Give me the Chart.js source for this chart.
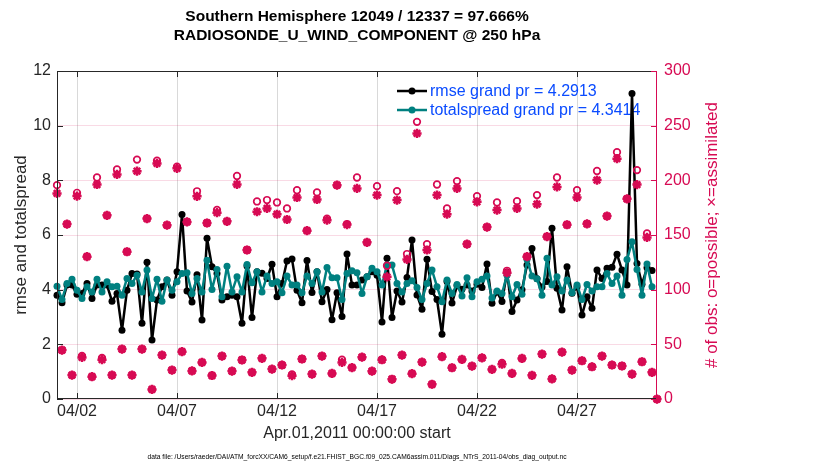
<!DOCTYPE html>
<html><head><meta charset="utf-8">
<script src="https://cdn.jsdelivr.net/npm/chart.js@4.4.1/dist/chart.umd.min.js"></script>
<style>html,body{margin:0;padding:0;background:#fff}#wrap{width:830px;height:470px}</style>
</head><body><div id="wrap"><canvas id="c" width="830" height="470"></canvas></div>
<script>
const titleLines = ['Southern Hemisphere 12049 / 12337 = 97.666%', 'RADIOSONDE_U_WIND_COMPONENT @ 250 hPa'];
const xTitle = 'Apr.01,2011 00:00:00 start';
const yTitle = 'rmse and totalspread';
const y2Title = '# of obs: o=possible; \u00D7=assimilated';
const footnote = 'data file: /Users/raeder/DAI/ATM_forcXX/CAM6_setup/f.e21.FHIST_BGC.f09_025.CAM6assim.011/Diags_NTrS_2011-04/obs_diag_output.nc';
const legendLabels = ['rmse grand pr = 4.2913', 'totalspread grand pr = 4.3414'];

const stepDays = 0.25;
const tickDays = [1, 6, 11, 16, 21, 26];
const tickLabels = ['04/02', '04/07', '04/12', '04/17', '04/22', '04/27'];

const rmse = [
3.80,3.52,4.17,4.17,3.83,3.86,4.23,3.68,4.17,4.17,
4.17,3.58,3.86,2.52,3.98,4.59,4.57,2.77,5.00,2.16,
3.62,4.11,4.35,3.80,4.66,6.75,3.95,3.55,4.55,2.89,
5.88,4.84,4.59,3.62,3.74,3.80,3.74,2.77,4.87,2.98,
4.66,4.60,4.41,4.93,3.74,4.23,5.05,5.12,3.98,3.52,
5.07,3.90,4.66,3.56,4.01,2.90,3.89,3.02,5.31,4.17,
4.17,4.35,4.47,4.66,4.53,2.82,5.15,2.98,3.95,3.55,
4.45,5.82,3.81,3.28,5.11,3.93,3.64,2.37,4.30,3.51,
4.14,4.02,4.17,3.95,4.20,4.08,4.94,3.50,3.92,3.57,
4.64,3.20,3.62,4.00,4.90,5.51,4.40,4.10,4.30,6.25,
4.05,3.26,4.84,3.87,4.10,3.07,3.74,3.32,4.72,4.41,
4.78,4.82,5.30,4.72,4.17,11.18,4.96,4.20,4.80,4.70
];
const totalspread = [
4.13,3.64,4.23,4.38,3.98,3.68,4.11,3.92,4.38,3.92,
4.29,4.11,4.13,3.80,4.41,4.23,4.53,3.92,4.72,3.68,
4.38,3.58,4.35,3.98,4.29,4.59,4.62,3.86,4.41,3.92,
5.08,4.01,4.74,3.74,4.86,3.92,4.47,3.92,4.92,4.25,
4.66,3.92,4.50,4.23,4.29,3.89,4.50,4.17,4.17,3.89,
4.50,4.23,4.66,3.92,4.81,4.44,4.44,3.64,4.59,4.69,
4.62,3.86,4.47,4.78,4.66,4.17,4.90,4.90,4.23,3.92,
4.23,4.33,4.08,3.64,4.23,4.72,4.11,3.56,4.35,3.86,
4.19,3.77,4.44,3.74,4.29,4.38,4.50,3.70,3.95,3.86,
4.53,3.74,4.19,3.83,5.10,4.50,4.40,3.80,5.15,4.17,
4.47,3.95,4.35,3.89,4.17,3.64,4.19,3.95,4.11,4.11,
4.59,4.23,4.50,3.80,5.10,5.75,4.74,3.80,4.94,4.11
];
const nPossible = [
195.6,44.8,160,21.9,188.6,39.5,130.2,20.4,202.6,37.5,
168,21.9,210,45.7,134.7,21.9,219,45.7,165,8.8,
218,40.2,159,26.5,212.5,43.3,162,25.7,190,33.5,
161,21.5,173,39.3,162.5,25.6,204,35.7,136.3,24.4,
180.7,37.2,182,27.4,179.8,31.1,174.3,22.5,191,36.6,
154,22.8,189,39.3,165,23.4,195.6,36,160,28.8,
202.6,38.3,143.3,25.5,194.7,35.9,121.9,18.1,190.1,40.2,
132.6,23.2,253.5,33.8,141.7,13.5,196.2,38.7,174.3,28.6,
199.3,36.2,141.7,30.1,185.6,37.7,157.3,27.1,179.8,33,
117.3,23.4,181,37.1,130.2,21.7,186.5,41.1,148.5,18.4,
202.6,42.9,159.4,26.5,191,35,160.2,29.5,208.6,39.3,
167.3,31.1,225.8,30.2,183.1,22.8,209.4,34.1,151.5,24.4,
0
];
const nAssimilated = [
188,44.8,160,21.9,185.6,38,130.2,20.4,196.2,36,
168,21.9,205.4,45.7,134.7,21.9,208.4,45.7,165,8.8,
215.5,40.2,159,26.5,211,43.3,162,25.7,185.4,33.5,
161,21.5,170.4,39.3,162.5,25.6,196.3,35.7,136.3,24.4,
171.3,37.2,174.3,27.4,169,31.1,164.2,21.3,184.3,36.6,
154,22.8,182.5,39.3,163.6,23.4,195.6,33.5,159.6,28.8,
192.6,38.3,143.3,25.5,186.5,35.9,111.8,18.1,182,40.2,
127.7,23.2,242.9,33.8,136.3,13.5,186.5,38.7,169.1,28.6,
192.6,36.2,141.7,30.1,180.4,37.7,157.3,27.1,172.8,31.8,
115.5,23.4,174.3,37.1,130.2,21.7,178.2,41.1,148.5,18.4,
194,42.9,159.4,26.5,184.4,35,160.2,29.5,200.3,39.3,
167.3,31.1,219.8,30.2,183.1,22.8,196.1,34.1,147.8,24.4,
0
];

const BLACK = '#000000';
const TEAL = '#008080';
const CRIMSON = '#D70A53';
const LEGEND_BLUE = '#0A4BFF';
const FONT = "'Liberation Sans', Arial, Helvetica, sans-serif";

const toXY = arr => arr.map((v, i) => ({x: i * stepDays, y: v}));

const framePlugin = {
  id: 'frame',
  beforeDatasetsDraw(chart) {
    const {ctx, chartArea: a} = chart;
    const rows = [{c: BLACK, t: legendLabels[0], y: a.top + 20}, {c: TEAL, t: legendLabels[1], y: a.top + 39}];
    ctx.save();
    rows.forEach(r => {
      ctx.strokeStyle = r.c; ctx.lineWidth = 2.5;
      ctx.beginPath(); ctx.moveTo(397, r.y); ctx.lineTo(427, r.y); ctx.stroke();
      ctx.fillStyle = r.c; ctx.beginPath(); ctx.arc(412, r.y, 3.5, 0, Math.PI * 2); ctx.fill();
      ctx.fillStyle = LEGEND_BLUE; ctx.font = '16px ' + FONT;
      ctx.textAlign = 'left'; ctx.textBaseline = 'middle';
      ctx.fillText(r.t, 430, r.y + 1);
    });
    ctx.restore();
  },
  afterDraw(chart) {
    const {ctx, chartArea: a, scales} = chart;
    const ln = (x1, y1, x2, y2) => { ctx.beginPath(); ctx.moveTo(x1, y1); ctx.lineTo(x2, y2); ctx.stroke(); };
    ctx.save();
    ctx.lineWidth = 1;
    ctx.strokeStyle = '#262626';
    ln(a.left, a.top + 0.5, a.right, a.top + 0.5);
    ln(a.left + 0.5, a.top, a.left + 0.5, a.bottom);
    ln(a.left, a.bottom - 0.5, a.right, a.bottom - 0.5);
    scales.x.ticks.forEach(t => {
      const px = Math.round(scales.x.getPixelForValue(t.value)) + 0.5;
      ln(px, a.bottom, px, a.bottom - 6); ln(px, a.top, px, a.top + 6);
    });
    scales.y.ticks.forEach(t => {
      const py = Math.round(scales.y.getPixelForValue(t.value)) + 0.5;
      ln(a.left, py, a.left + 6, py);
    });
    ctx.strokeStyle = CRIMSON;
    scales.y1.ticks.forEach(t => {
      const py = Math.round(scales.y1.getPixelForValue(t.value)) + 0.5;
      ln(a.right, py, a.right - 6, py);
    });
    ln(a.right - 0.5, a.top, a.right - 0.5, a.bottom);
    ctx.fillStyle = CRIMSON;
    ctx.font = '17px ' + FONT;
    ctx.translate(712, (a.top + a.bottom) / 2);
    ctx.rotate(-Math.PI / 2);
    ctx.textAlign = 'center'; ctx.textBaseline = 'middle';
    ctx.fillText(y2Title, 0, 0);
    ctx.restore();
  }
};

new Chart(document.getElementById('c'), {
  type: 'line',
  data: {
    datasets: [
      {label: 'rmse', data: toXY(rmse), yAxisID: 'y', borderColor: BLACK, backgroundColor: BLACK,
       borderWidth: 2.5, borderJoinStyle: 'round', borderCapStyle: 'round',
       pointRadius: 3.5, pointBorderWidth: 0, pointBackgroundColor: BLACK, order: 3, clip: false},
      {label: 'totalspread', data: toXY(totalspread), yAxisID: 'y', borderColor: TEAL, backgroundColor: TEAL,
       borderWidth: 2.5, borderJoinStyle: 'round', borderCapStyle: 'round',
       pointRadius: 3.5, pointBorderWidth: 0, pointBackgroundColor: TEAL, order: 2, clip: false},
      {label: 'possible', data: toXY(nPossible), yAxisID: 'y1', showLine: false, pointStyle: 'circle',
       pointRadius: 3.3, pointBorderWidth: 1.7, pointBorderColor: CRIMSON, pointBackgroundColor: 'rgba(0,0,0,0)', order: 1, clip: false},
      {label: 'assimilated', data: toXY(nAssimilated), yAxisID: 'y1', showLine: false, pointStyle: 'star',
       pointRadius: 4.6, pointBorderWidth: 2.5, pointBorderColor: CRIMSON, pointBackgroundColor: CRIMSON, order: 0, clip: false}
    ]
  },
  options: {
    responsive: false,
    animation: false,
    devicePixelRatio: 1,
    layout: {padding: 0},
    plugins: {
      legend: {display: false},
      tooltip: {enabled: false},
      title: {display: true, text: titleLines, fullSize: false, color: '#000',
              font: {family: FONT, size: 15.5, weight: 'bold', lineHeight: 1.22},
              padding: {top: 7, bottom: 26.2}},
      subtitle: {display: true, text: footnote, position: 'bottom', fullSize: false, color: '#000',
                 font: {family: FONT, size: 6.7, lineHeight: 1.25}, padding: {top: 4, bottom: 9}}
    },
    scales: {
      x: {
        type: 'linear', min: 0, max: 30,
        afterBuildTicks: s => { s.ticks = tickDays.map(v => ({value: v})); },
        afterFit: s => { s.height = 49.6; },
        ticks: {callback: v => tickLabels[tickDays.indexOf(v)], color: '#262626', padding: 3,
                maxRotation: 0, autoSkip: false, font: {family: FONT, size: 16}},
        grid: {color: 'rgba(0,0,0,0.15)', drawTicks: false},
        border: {display: false},
        title: {display: true, text: xTitle, color: '#262626', font: {family: FONT, size: 16, lineHeight: 1.2},
                padding: {top: 0, bottom: 5}}
      },
      y: {
        position: 'left', min: 0, max: 12,
        afterFit: s => { s.width = 57; },
        ticks: {stepSize: 2, color: '#262626', padding: 6, font: {family: FONT, size: 16}},
        grid: {display: false, drawTicks: false},
        border: {display: false},
        title: {display: true, text: yTitle, color: '#262626', font: {family: FONT, size: 17, lineHeight: 1.2},
                padding: {top: 11.5, bottom: 0}}
      },
      y1: {
        position: 'right', min: 0, max: 300,
        afterFit: s => { s.width = 173; },
        ticks: {stepSize: 50, color: CRIMSON, padding: 7, font: {family: FONT, size: 16}},
        grid: {color: 'rgba(215,10,83,0.15)', drawTicks: false},
        border: {display: false}
      }
    }
  },
  plugins: [framePlugin]
});
</script></body></html>
